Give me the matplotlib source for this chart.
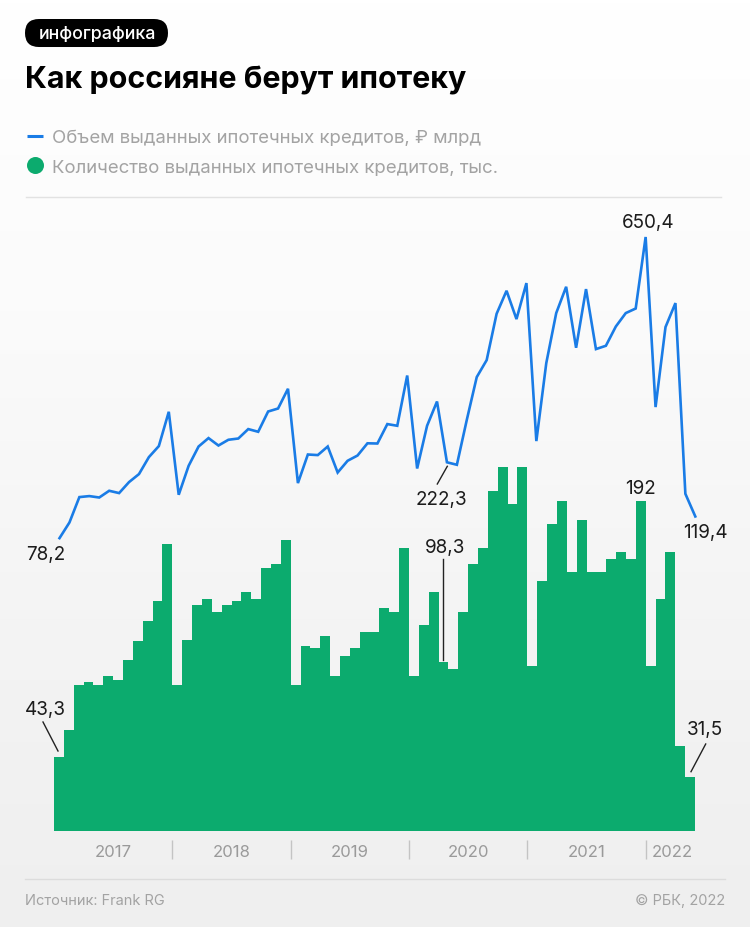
import numpy as np
import matplotlib
matplotlib.use("Agg")
import matplotlib.pyplot as plt
from matplotlib.patches import FancyBboxPatch
from matplotlib.colors import LinearSegmentedColormap

volume = [78.2, 107.9, 156.2, 158.1, 155.4, 168.2, 163.8, 184.7, 199.9, 232.2, 253.1, 318.3, 160.6,
          215.7, 252.3, 268.3, 254.2, 265.1, 267.5, 285.4, 280.3, 318.8, 324.5, 362.0, 182.8,
          237.1, 236.0, 252.3, 202.9, 225.2, 235.2, 258.4, 258.0, 294.9, 291.7, 387.2, 210.5,
          291.7, 337.8, 222.3, 217.6, 303.0, 384.2, 416.5, 504.5, 548.2, 494.4, 562.8, 262.6,
          410.8, 505.8, 555.8, 439.9, 551.4, 437.4, 443.7, 480.3, 505.8, 514.5, 650.4, 327.2,
          479.2, 524.8, 162.5, 119.4]
count = [43.3, 58.9, 84.9, 86.8, 84.9, 89.9, 88.0, 99.6, 110.3, 122.1, 133.9, 166.9, 84.9,
         111.2, 131.4, 134.9, 127.3, 131.4, 133.9, 138.8, 134.9, 153.1, 155.2, 169.2, 84.9,
         107.7, 106.2, 113.4, 89.9, 101.7, 106.2, 115.5, 115.5, 129.5, 127.5, 164.5, 89.9,
         119.9, 138.8, 98.3, 94.2, 127.5, 155.2, 164.5, 197.8, 211.5, 190.1, 211.5, 96.1,
         145.5, 178.5, 192.0, 150.8, 180.6, 150.8, 150.8, 158.1, 162.4, 158.1, 192.0, 96.1,
         134.9, 162.4, 49.6, 31.5]
years = ["2017", "2018", "2019", "2020", "2021", "2022"]
year_centers = [6, 18, 30, 42, 54, 62.7]
year_bounds = [12, 24, 36, 48, 60]

W, H = 750, 928
FONT = ['Inter', 'Roboto', 'DejaVu Sans']
GREEN = '#0cab6e'
BLUE = '#1a7ce6'
GRAY = '#a3a3a3'
DARK = '#1c1c1c'
plt.rcParams['font.family'] = FONT

fig = plt.figure(figsize=(W / 100, H / 100), dpi=100)

# background gradient
bg = fig.add_axes([0, 0, 1, 1], zorder=0)
cmap = LinearSegmentedColormap.from_list('bg', ['#ffffff', '#fbfbfb', '#f4f4f4', '#efefef'])
bg.imshow(np.linspace(0, 1, 256).reshape(-1, 1), aspect='auto', cmap=cmap, extent=[0, W, H, 0])
bg.set_xlim(0, W); bg.set_ylim(H, 0); bg.axis('off')

def rect(x0, x1, ytop, ybot):
    return [x0 / W, 1 - ybot / H, (x1 - x0) / W, (ybot - ytop) / H]

# bars: 65 edge-aligned columns, zero at pixel y=832, 1.72 px per unit
top, bot = 200, 866
ax = fig.add_axes(rect(54, 695, top, bot), zorder=1)
ax.patch.set_alpha(0)
ax.set_xlim(0, 65)
ax.set_ylim(-(bot - 832) / 1.72, (832 - top) / 1.72)
ax.bar(np.arange(len(count)), count, width=1.0, align='edge', color=GREEN, linewidth=0)
ax.axis('off')
ax.vlines(year_bounds, -(860 - 832) / 1.72, -(841 - 832) / 1.72, color='#c4c4c4', lw=1)
for lab, c in zip(years, year_centers):
    ax.text(c, -(853 - 832) / 1.72, lab, ha='center', va='center', fontsize=12, color='#9a9a9a')

# line: separate scale, zero at pixel y=580.3, 0.5263 px per unit
lx = fig.add_axes(rect(59.5, 695.3, top, bot), zorder=2)
lx.patch.set_alpha(0)
lx.set_xlim(0, 64)
lx.set_ylim(-(bot - 580.3) * 1.9, (580.3 - top) * 1.9)
lx.plot(np.arange(len(volume)), volume, color=BLUE, lw=1.9, solid_joinstyle='miter', clip_on=False)
lx.axis('off')

# overlay: texts and leaders in pixel coords
ov = fig.add_axes([0, 0, 1, 1], zorder=3)
ov.patch.set_alpha(0)
ov.set_xlim(0, W); ov.set_ylim(H, 0); ov.axis('off')

ov.add_patch(FancyBboxPatch((25 + 14, 20 + 14), 143 - 28, 0.01, boxstyle='round,pad=14', lw=0, fc='black'))
ov.text(97, 34, 'инфографика', color='white', fontsize=12.8, weight='medium', ha='center', va='center')
ov.text(25, 80, 'Как россияне берут ипотеку', color='black', fontsize=21.9, weight='bold', ha='left', va='center')

ov.plot([27, 43], [137, 137], color=BLUE, lw=2.2, solid_capstyle='butt')
ov.scatter([35], [166], s=150, color=GREEN, linewidths=0)
ov.text(52, 139, 'Объем выданных ипотечных кредитов, ₽ млрд', color=GRAY, fontsize=13.4, ha='left', va='center')
ov.text(52, 168, 'Количество выданных ипотечных кредитов, тыс.', color=GRAY, fontsize=13.4, ha='left', va='center')

ov.plot([26, 721], [198, 198], color='#e2e2e2', lw=1)
ov.plot([25, 725], [879.5, 879.5], color='#dcdcdc', lw=1)
ov.text(25, 901, 'Источник: Frank RG', color=GRAY, fontsize=10.5, ha='left', va='center')
ov.text(725, 901, '© РБК, 2022', color=GRAY, fontsize=10.5, ha='right', va='center')

labels = [(46, 555, '78,2'), (45.5, 710, '43,3'), (441, 500, '222,3'), (445, 548, '98,3'),
          (648, 223, '650,4'), (640, 489, '192'), (705, 533, '119,4'), (705, 730, '31,5')]
for x, y, t in labels:
    ov.text(x, y, t, color=DARK, fontsize=13.6, ha='center', va='center')
leaders = [((43, 723), (58, 752)), ((447.3, 467.3), (437.3, 485)), ((443, 560), (443, 661)), ((705.7, 745), (691, 772.7))]
for (a, b) in leaders:
    ov.plot([a[0], b[0]], [a[1], b[1]], color='#222222', lw=1)

fig.savefig('out.png', dpi=100)
